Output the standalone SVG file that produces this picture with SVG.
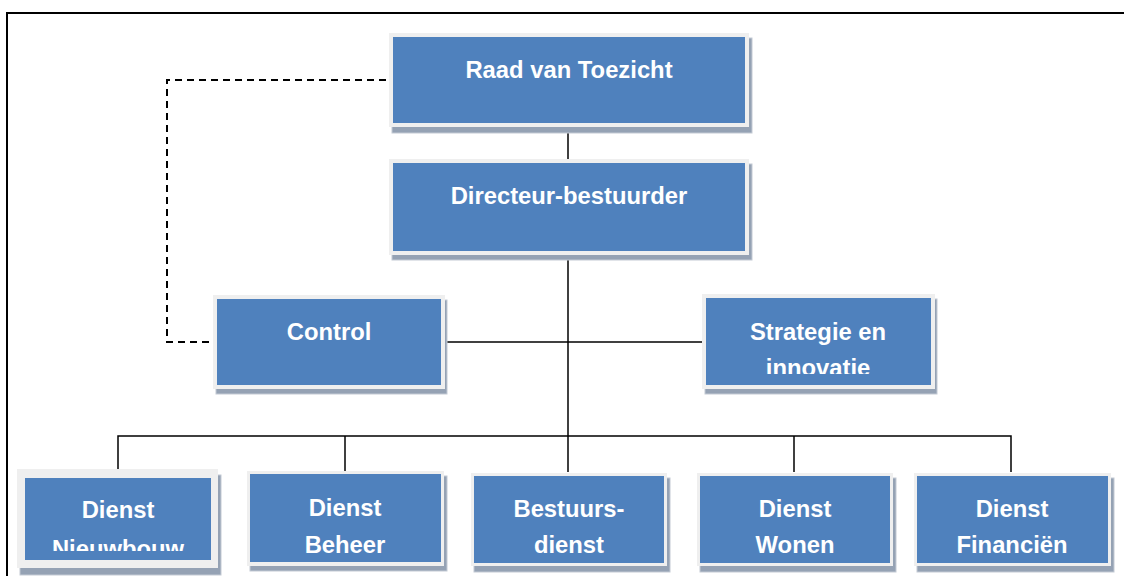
<svg xmlns="http://www.w3.org/2000/svg" width="1124" height="576" viewBox="0 0 1124 576">
<style>
.sh{fill:#95a2b4;stroke:#c3cad4;stroke-width:1}
.lt{fill:#efefef}
.bl{fill:#4f81bd}
.t{font-family:"Liberation Sans",Arial,sans-serif;font-weight:bold;font-size:23.8px;fill:#ffffff;text-anchor:middle}
.c{fill:none;stroke:#000;stroke-width:1.5}
.d{fill:none;stroke:#000;stroke-width:2;stroke-dasharray:7,5}
</style>
<defs>
<clipPath id="cpN"><rect x="25" y="478" width="186" height="73"/></clipPath>
<clipPath id="cpS"><rect x="706" y="298" width="225" height="76"/></clipPath>
<clipPath id="cpB"><rect x="250" y="474" width="191" height="79"/></clipPath>
<clipPath id="cpBd"><rect x="474" y="476" width="190" height="77"/></clipPath>
<clipPath id="cpW"><rect x="700" y="476" width="190" height="77"/></clipPath>
<clipPath id="cpF"><rect x="917" y="476" width="191" height="77"/></clipPath>
</defs>
<rect width="1124" height="576" fill="#ffffff"/>
<path d="M7 576 V13 H1124" fill="none" stroke="#000" stroke-width="2"/>
<g id="connectors">
<path class="d" d="M386 80 H167 V342 H213"/>
<path class="c" d="M568 128 V159"/>
<path class="c" d="M568 255 V472"/>
<path class="c" d="M445 342 H702"/>
<path class="c" d="M118 469 V436 H1011 V472"/>
<path class="c" d="M345 471 V436"/>
<path class="c" d="M794 472 V436"/>
</g>
<g id="raad">
<rect class="sh" x="392" y="38" width="360" height="95"/>
<rect class="lt" x="389" y="33" width="360" height="94"/>
<rect class="bl" x="393" y="37" width="352" height="86"/>
<text class="t" x="569" y="78">Raad van Toezicht</text>
</g>
<g id="directeur">
<rect class="sh" x="392" y="164" width="360" height="96"/>
<rect class="lt" x="389" y="159" width="360" height="96"/>
<rect class="bl" x="393" y="163" width="352" height="88"/>
<text class="t" x="569" y="204">Directeur-bestuurder</text>
</g>
<g id="control">
<rect class="sh" x="216" y="300" width="231" height="94"/>
<rect class="lt" x="213" y="295" width="232" height="94"/>
<rect class="bl" x="217" y="299" width="224" height="86"/>
<text class="t" x="329" y="340">Control</text>
</g>
<g id="strategie">
<rect class="sh" x="705" y="299" width="232" height="95"/>
<rect class="lt" x="702" y="294" width="233" height="95"/>
<rect class="bl" x="706" y="298" width="225" height="87"/>
<g clip-path="url(#cpS)">
<text class="t" x="818" y="340">Strategie en</text>
<text class="t" x="818" y="376">innovatie</text>
</g>
</g>
<g id="nieuwbouw">
<rect class="sh" x="20" y="475" width="201" height="100"/>
<rect class="lt" x="17" y="469" width="201" height="99"/>
<rect class="bl" x="25" y="478" width="186" height="82"/>
<g clip-path="url(#cpN)">
<text class="t" x="118" y="518">Dienst</text>
<text class="t" x="118" y="557">Nieuwbouw</text>
</g>
</g>
<g id="beheer">
<rect class="sh" x="250" y="476" width="197" height="95"/>
<rect class="lt" x="247" y="471" width="197" height="95"/>
<rect class="bl" x="250" y="474" width="191" height="88"/>
<g clip-path="url(#cpB)">
<text class="t" x="345" y="516">Dienst</text>
<text class="t" x="345" y="553">Beheer</text>
</g>
</g>
<g id="bestuursdienst">
<rect class="sh" x="474" y="478" width="196" height="94"/>
<rect class="lt" x="471" y="473" width="196" height="93"/>
<rect class="bl" x="474" y="476" width="190" height="87"/>
<g clip-path="url(#cpBd)">
<text class="t" x="569" y="517">Bestuurs-</text>
<text class="t" x="569" y="553">dienst</text>
</g>
</g>
<g id="wonen">
<rect class="sh" x="700" y="478" width="196" height="94"/>
<rect class="lt" x="697" y="473" width="196" height="93"/>
<rect class="bl" x="700" y="476" width="190" height="87"/>
<g clip-path="url(#cpW)">
<text class="t" x="795" y="517">Dienst</text>
<text class="t" x="795" y="553">Wonen</text>
</g>
</g>
<g id="financien">
<rect class="sh" x="917" y="478" width="197" height="94"/>
<rect class="lt" x="914" y="473" width="197" height="93"/>
<rect class="bl" x="917" y="476" width="191" height="87"/>
<g clip-path="url(#cpF)">
<text class="t" x="1012" y="517">Dienst</text>
<text class="t" x="1012" y="553">Financiën</text>
</g>
</g>
</svg>
